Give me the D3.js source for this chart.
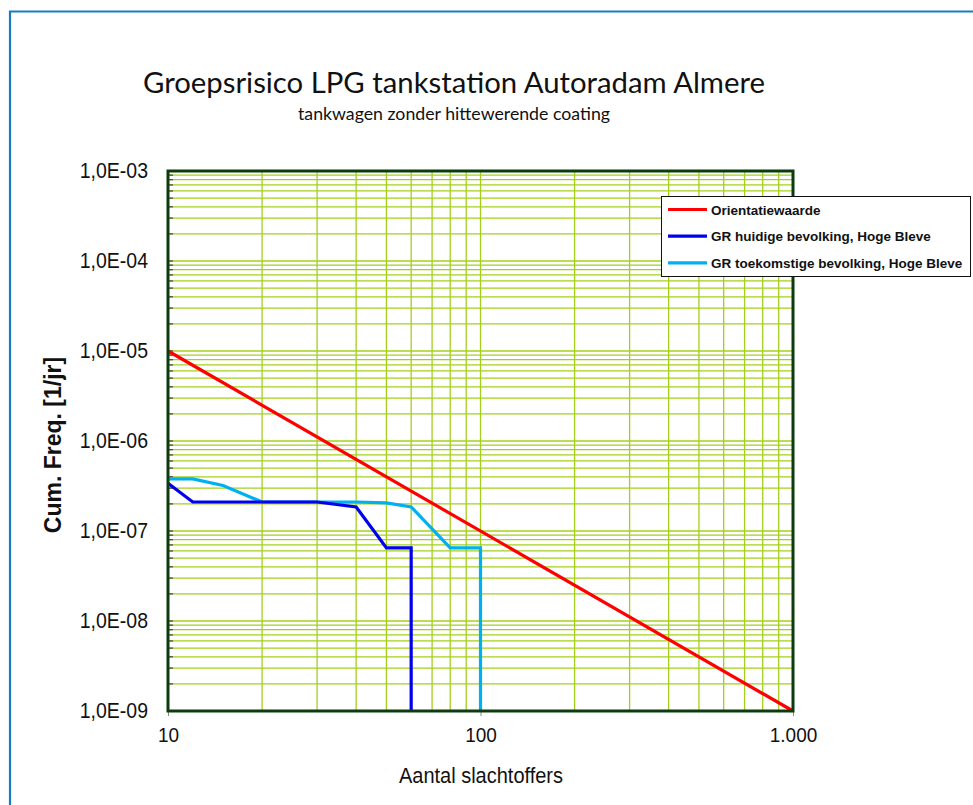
<!DOCTYPE html>
<html>
<head>
<meta charset="utf-8">
<script src="https://cdn.jsdelivr.net/npm/d3@7"></script>
<style>
  html, body { margin: 0; padding: 0; background: #fff; }
  svg { display: block; }
</style>
</head>
<body>
<svg id="chart" width="973" height="805"></svg>
<script>
// Aantal slachtoffers (N) en cumulatieve frequentie (1/jr) per reeks
const orientatieN = [10, 1000];
const orientatieF = [1e-5, 1e-9];

const huidigeN = [10, 12, 30, 40, 50, 60, 60];
const huidigeF = [3.4e-7, 2.1e-7, 2.1e-7, 1.85e-7, 6.5e-8, 6.5e-8, 1e-9];

const toekomstN = [10, 12, 15, 20, 40, 50, 60, 80, 100, 100];
const toekomstF = [3.8e-7, 3.8e-7, 3.2e-7, 2.1e-7, 2.1e-7, 2.05e-7, 1.85e-7, 6.5e-8, 6.5e-8, 1e-9];

const seriesNames = [
  "Orientatiewaarde",
  "GR huidige bevolking, Hoge Bleve",
  "GR toekomstige bevolking, Hoge Bleve"
];
const seriesColors = ["#ff0000", "#0000ee", "#00b0f0"];

const xTickValues = [10, 100, 1000];
const xTickLabels = ["10", "100", "1.000"];
const yTickValues = [1e-3, 1e-4, 1e-5, 1e-6, 1e-7, 1e-8, 1e-9];
const yTickLabels = ["1,0E-03", "1,0E-04", "1,0E-05", "1,0E-06", "1,0E-07", "1,0E-08", "1,0E-09"];

const titleText = "Groepsrisico LPG tankstation Autoradam Almere";
const subtitleText = "tankwagen zonder hittewerende coating";
const xTitle = "Aantal slachtoffers";
const yTitle = "Cum. Freq. [1/jr]";

const svg = d3.select("#chart");
const plot = { left: 168, top: 171, right: 793, bottom: 711 };
const sans = "Arial, 'Liberation Sans', sans-serif";

const x = d3.scaleLog().domain([10, 1000]).range([plot.left, plot.right]);
const y = d3.scaleLog().domain([1e-9, 1e-3]).range([plot.bottom, plot.top]);

// outer frame (top and left edges visible)
svg.append("path")
  .attr("d", "M10,805 L10,11.5 L973,11.5")
  .attr("fill", "none")
  .attr("stroke", "#1a7cc0")
  .attr("stroke-width", 2.2);

// titles
svg.append("text")
  .attr("x", 454).attr("y", 93)
  .attr("text-anchor", "middle")
  .attr("font-family", "Lato, 'Open Sans', sans-serif")
  .attr("font-size", 29)
  .attr("textLength", 622)
  .attr("lengthAdjust", "spacingAndGlyphs")
  .attr("fill", "#111")
  .text(titleText);

svg.append("text")
  .attr("x", 454).attr("y", 120)
  .attr("text-anchor", "middle")
  .attr("font-family", "Lato, 'Open Sans', sans-serif")
  .attr("font-size", 16.5)
  .attr("textLength", 312)
  .attr("lengthAdjust", "spacingAndGlyphs")
  .attr("fill", "#111")
  .text(subtitleText);

// grid
const minorX = [];
[10, 100].forEach(d => { for (let k = 1; k <= 9; k++) minorX.push(d * k); });
minorX.push(1000);
const minorY = [];
for (let e = -9; e < -3; e++) for (let k = 1; k <= 9; k++) minorY.push(k * Math.pow(10, e));
minorY.push(1e-3);

const grid = svg.append("g");
grid.selectAll("line.gx").data(minorX).join("line")
  .attr("class", "gx")
  .attr("x1", d => x(d)).attr("x2", d => x(d))
  .attr("y1", plot.top).attr("y2", plot.bottom)
  .attr("stroke", "#a4d01c").attr("stroke-width", 1.3);
grid.selectAll("line.gy").data(minorY).join("line")
  .attr("class", "gy")
  .attr("x1", plot.left).attr("x2", plot.right)
  .attr("y1", d => y(d)).attr("y2", d => y(d))
  .attr("stroke", "#a4d01c").attr("stroke-width", 1.3);

// small ticks along the left axis
svg.append("g").selectAll("line").data(minorY).join("line")
  .attr("x1", plot.left).attr("x2", plot.left + 5)
  .attr("y1", d => y(d)).attr("y2", d => y(d))
  .attr("stroke", "#444").attr("stroke-width", 1.2);

// axes with labels
const yAxis = d3.axisLeft(y)
  .tickValues(yTickValues)
  .tickFormat((d, i) => yTickLabels[i])
  .tickSize(0).tickPadding(20);
svg.append("g")
  .attr("transform", `translate(${plot.left},0)`)
  .call(yAxis)
  .call(g => g.select(".domain").remove())
  .selectAll("text")
  .attr("font-family", sans)
  .attr("font-size", 19.5)
  .attr("transform", "scale(1,1.1)")
  .attr("fill", "#111");

const xAxis = d3.axisBottom(x)
  .tickValues(xTickValues)
  .tickFormat((d, i) => xTickLabels[i])
  .tickSize(5).tickPadding(10);
svg.append("g")
  .attr("transform", `translate(0,${plot.bottom})`)
  .call(xAxis)
  .call(g => g.select(".domain").remove())
  .call(g => g.selectAll("line").attr("stroke", "#888"))
  .selectAll("text")
  .attr("font-family", sans)
  .attr("font-size", 19)
  .attr("transform", "scale(1,1.1)")
  .attr("fill", "#111");

// axis titles
svg.append("text")
  .attr("transform", "translate(481,783) scale(1,1.12)")
  .attr("text-anchor", "middle")
  .attr("font-family", sans)
  .attr("font-size", 20)
  .attr("fill", "#111")
  .text(xTitle);

svg.append("text")
  .attr("transform", "translate(61,445) rotate(-90)")
  .attr("text-anchor", "middle")
  .attr("font-family", sans)
  .attr("font-weight", "bold")
  .attr("font-size", 23)
  .attr("fill", "#111")
  .text(yTitle);

// series
const line = d3.line().x(d => x(d[0])).y(d => y(d[1]));
const seriesData = [
  d3.zip(orientatieN, orientatieF),
  d3.zip(huidigeN, huidigeF),
  d3.zip(toekomstN, toekomstF)
];
const drawOrder = [2, 1, 0];
svg.append("g").selectAll("path").data(drawOrder).join("path")
  .attr("d", i => line(seriesData[i]))
  .attr("fill", "none")
  .attr("stroke", i => seriesColors[i])
  .attr("stroke-width", 3.2)
  .attr("stroke-linejoin", "miter");

// plot frame
svg.append("rect")
  .attr("x", plot.left).attr("y", plot.top)
  .attr("width", plot.right - plot.left).attr("height", plot.bottom - plot.top)
  .attr("fill", "none")
  .attr("stroke", "#0d3b0d")
  .attr("stroke-width", 3);

// legend
const legend = svg.append("g").attr("transform", "translate(661,196)");
legend.append("rect")
  .attr("x", 0.5).attr("y", 0.5).attr("width", 309).attr("height", 80)
  .attr("fill", "#fff").attr("stroke", "#111").attr("stroke-width", 1);
const items = legend.selectAll("g.item").data(seriesNames).join("g")
  .attr("class", "item")
  .attr("transform", (d, i) => `translate(0,${13.5 + i * 26.7})`);
items.append("line")
  .attr("x1", 7).attr("x2", 46)
  .attr("stroke", (d, i) => seriesColors[i])
  .attr("stroke-width", 3.2);
items.append("text")
  .attr("x", 50).attr("y", 5)
  .attr("font-family", sans)
  .attr("font-weight", "bold")
  .attr("font-size", 13.5)
  .attr("fill", "#111")
  .text(d => d);
</script>
</body>
</html>
